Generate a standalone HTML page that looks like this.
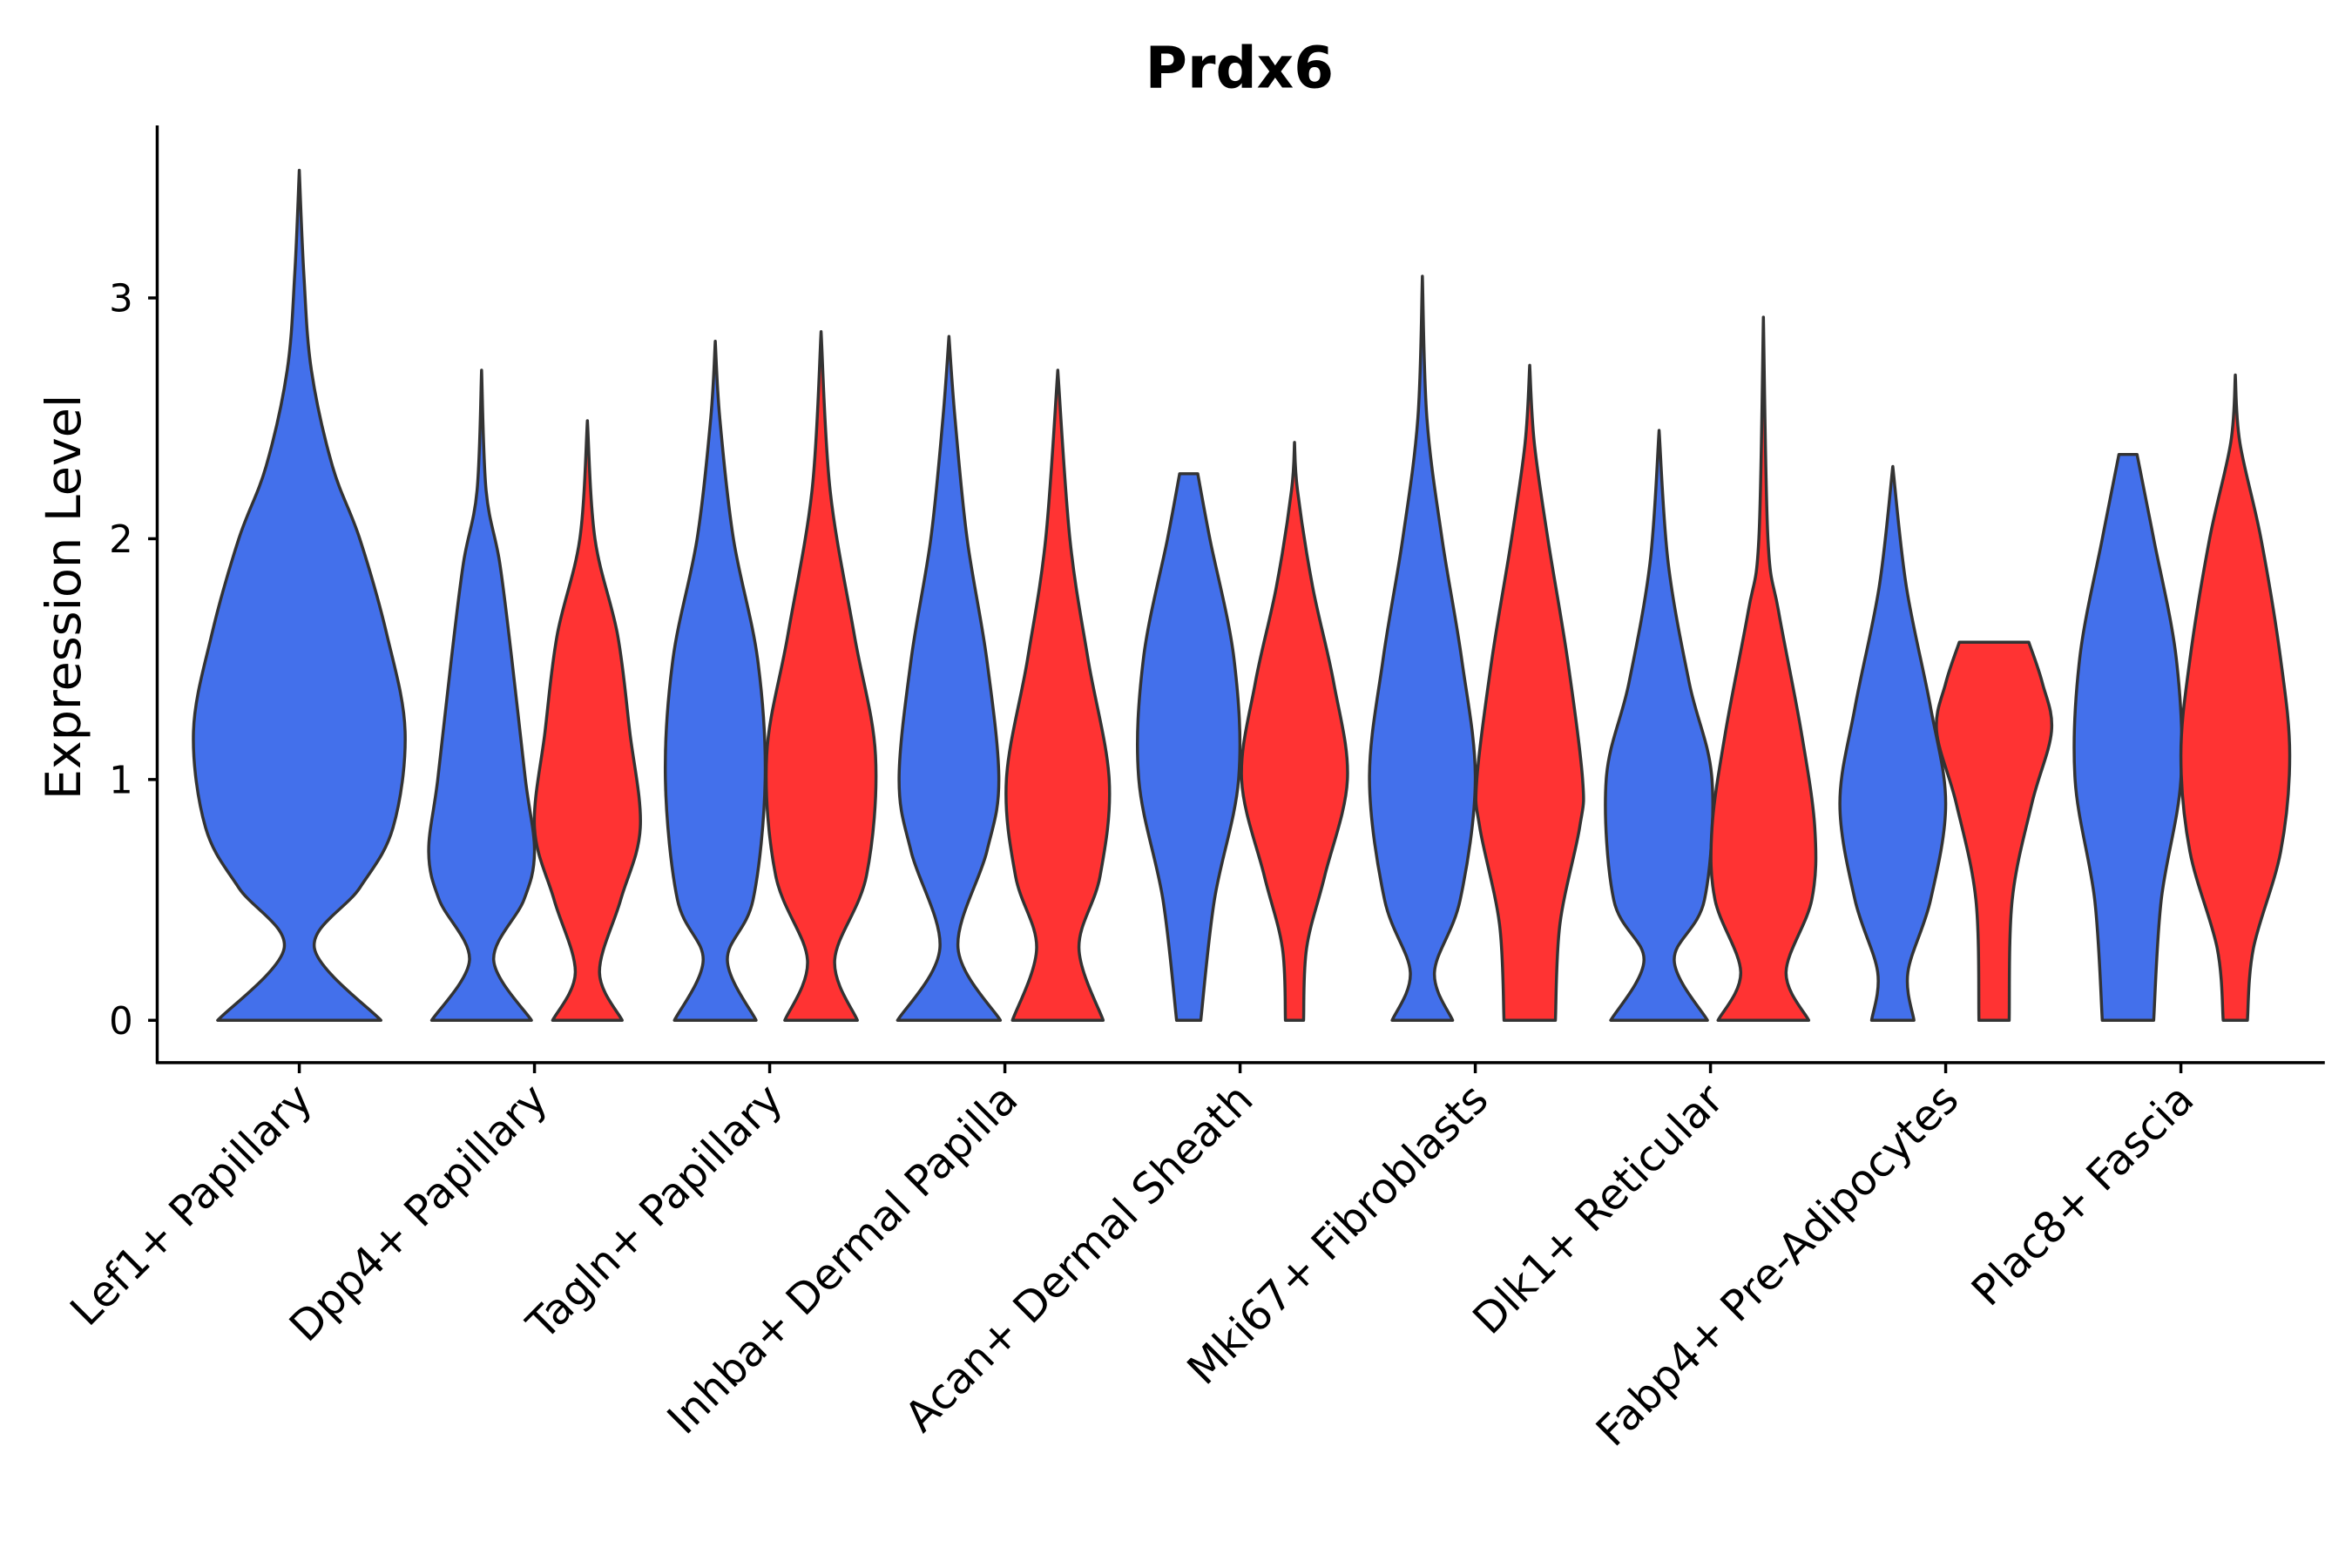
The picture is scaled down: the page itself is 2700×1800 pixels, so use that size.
<!DOCTYPE html>
<html><head><meta charset="utf-8"><style>
html,body{margin:0;padding:0;background:#fff}
svg{display:block}
text{font-family:"DejaVu Sans","Liberation Sans",sans-serif;fill:#000}
</style></head><body>
<svg id="chart" width="2700" height="1800" viewBox="0 0 1556 1037.33" xmlns="http://www.w3.org/2000/svg">
<text x="820" y="58" text-anchor="middle" font-size="38" font-weight="bold">Prdx6</text>
<text transform="translate(53,395) rotate(-90)" text-anchor="middle" font-size="32">Expression Level</text>
<g id="axes"></g>
<g id="violins"></g>
</svg>
<script>
const categories = ["Lef1+ Papillary","Dpp4+ Papillary","Tagln+ Papillary","Inhba+ Dermal Papilla","Acan+ Dermal Sheath","Mki67+ Fibroblasts","Dlk1+ Reticular","Fabp4+ Pre-Adipocytes","Plac8+ Fascia"];
const yTicks = [0,1,2,3];
const violinCategory = [0,1,1,2,2,3,3,4,4,5,5,6,6,7,7,8,8];
const violinGroup =    [0,0,1,0,1,0,1,0,1,0,1,0,1,0,1,0,1];
const violinOffset =   [0,-35,35,-36,34,-37,35,-34,36,-35,36,-34,35,-35,32,-35,36];
const violinTop = [3.53,2.70,2.49,2.82,2.86,2.84,2.70,2.27,2.40,3.09,2.72,2.45,2.92,2.30,1.57,2.35,2.68];
const violinFlatTop = [0,0,0,0,0,0,0,6,0,0,0,0,0,0,23,6,0];
const violinProfiles = [
 [[0,54],[0.3,10],[0.55,40],[0.8,62],[1.2,70],[1.6,58],[2.0,40],[2.3,22],[2.7,8],[3.1,3]],
 [[0,33],[0.25,8],[0.5,28],[0.7,35],[1.0,29],[1.5,20],[1.9,12],[2.2,3]],
 [[0,23],[0.2,8],[0.5,22],[0.8,35],[1.2,28],[1.6,20],[2.0,5]],
 [[0,27],[0.25,8],[0.5,25],[1.0,33],[1.5,28],[2.0,12],[2.5,3]],
 [[0,24],[0.25,9],[0.6,30],[1.1,36],[1.6,22],[2.2,6]],
 [[0,34],[0.3,6],[0.7,25],[1.0,33],[1.5,25],[2.0,12],[2.5,4]],
 [[0,30],[0.3,14],[0.6,28],[1.0,34],[1.5,20],[2.0,8]],
 [[0,8],[0.5,17],[1.0,33],[1.5,30],[2.0,14]],
 [[0,6],[0.3,8],[0.6,20],[1.0,35],[1.4,26],[1.8,12],[2.2,2]],
 [[0,20],[0.2,8],[0.5,25],[1.0,35],[1.5,26],[2.0,13],[2.5,3]],
 [[0,17],[0.4,20],[0.8,33],[1.0,35],[1.5,25],[2.0,12],[2.4,3]],
 [[0,32],[0.25,10],[0.5,30],[1.0,35],[1.4,20],[1.9,6]],
 [[0,30],[0.2,15],[0.5,32],[0.8,34],[1.2,25],[1.7,10],[2.0,3]],
 [[0,14],[0.2,10],[0.5,25],[0.9,35],[1.3,25],[1.8,9]],
 [[0,10],[0.5,12],[0.9,25],[1.2,38],[1.4,32]],
 [[0,17],[0.5,22],[1.0,35],[1.5,32],[2.0,17]],
 [[0,8],[0.3,12],[0.7,30],[1.1,36],[1.5,30],[2.0,17],[2.4,3]]
];
const colors = ["#4370EB","#FF3333"];
const X0=104,X1=1538,Y0=703,YT=83;
function yScale(v){return 675 - v*159.3;}
function xScale(i){return 198 + i*155.6;}
const NS="http://www.w3.org/2000/svg";
const axes=document.getElementById('axes');
function mk(tag,attrs,parent){const e=document.createElementNS(NS,tag);for(const k in attrs)e.setAttribute(k,attrs[k]);parent.appendChild(e);return e;}
let l=mk('line',{x1:X0,y1:YT,x2:X0,y2:Y0+0.8,stroke:'#000','stroke-width':2},axes);


l=mk('line',{x1:X0-0.8,y1:Y0,x2:X1,y2:Y0,stroke:'#000','stroke-width':2},axes);


yTicks.forEach(v=>{
 const y=yScale(v);
 const t=mk('line',{x1:X0-6,y1:y,x2:X0,y2:y,stroke:'#000','stroke-width':2},axes);
 
 
 const tx=mk('text',{x:X0-16,y:y+9,'text-anchor':'end','font-size':25},axes);
 tx.textContent=v;
 
 
});
categories.forEach((c,i)=>{
 const x=xScale(i);
 const t=mk('line',{x1:x,y1:Y0,x2:x,y2:Y0+7,stroke:'#000','stroke-width':2},axes);
 
 
 const tx=mk('text',{transform:`translate(${x+10},${Y0+26}) rotate(-45)`,'text-anchor':'end','font-size':28},axes);
 tx.textContent=c;
 
 
});
function smooth(pts){
 let d='';
 for(let i=0;i<pts.length-1;i++){
  const p0=pts[Math.max(0,i-1)],p1=pts[i],p2=pts[i+1],p3=pts[Math.min(pts.length-1,i+2)];
  const c1=[p1[0]+(p2[0]-p0[0])/6,p1[1]+(p2[1]-p0[1])/6];
  const c2=[p2[0]-(p3[0]-p1[0])/6,p2[1]-(p3[1]-p1[1])/6];
  d+=` C${c1[0]},${c1[1]} ${c2[0]},${c2[1]} ${p2[0]},${p2[1]}`;
 }
 return d;
}
const vg=document.getElementById('violins');
violinProfiles.forEach((prof,k)=>{
 const cx=xScale(violinCategory[k])+violinOffset[k];
 const flat=violinFlatTop[k];
 const full=prof.concat([[violinTop[k],flat]]);
 const right=full.map(p=>[cx+p[1],yScale(p[0])]);
 const left=full.slice().reverse().map(p=>[cx-p[1],yScale(p[0])]);
 let d=`M${right[0][0]},${right[0][1]}`+smooth(right);
 d+=` L${left[0][0]},${left[0][1]}`+smooth(left)+' Z';
 const p=mk('path',{d:d,fill:colors[violinGroup[k]],stroke:'#333','stroke-width':2,'stroke-linejoin':'round'},vg);
 
 
});
</script>
</body></html>
